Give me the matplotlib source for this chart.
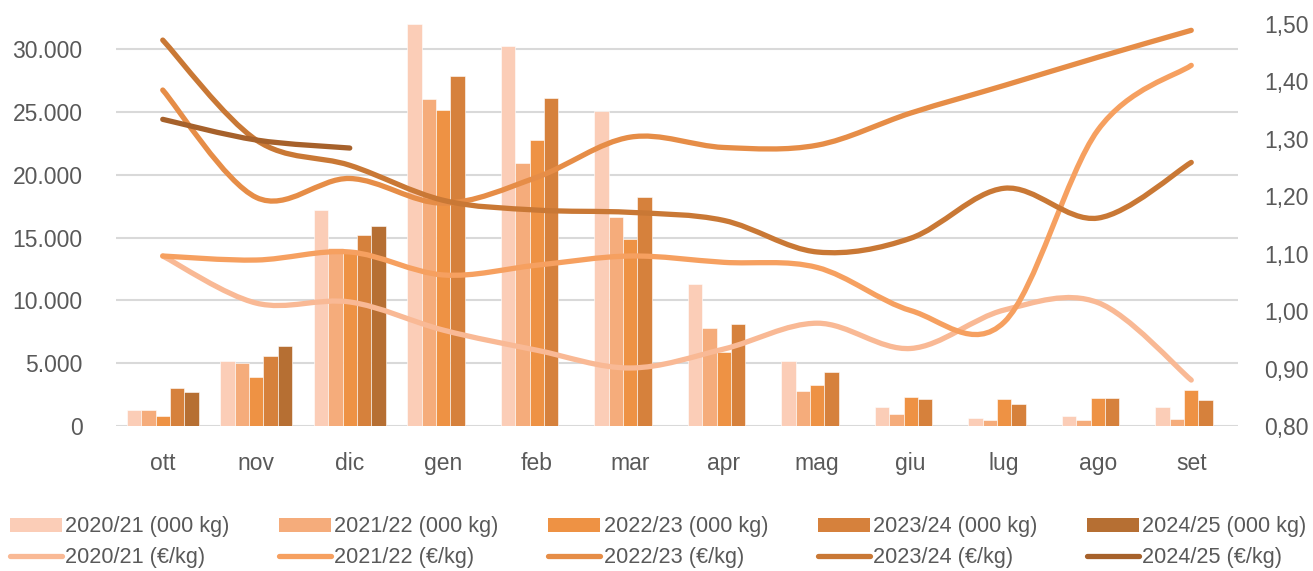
import numpy as np
import matplotlib
matplotlib.use("Agg")
import matplotlib.pyplot as plt
from matplotlib.path import Path
from matplotlib.patches import PathPatch, Patch
from matplotlib.lines import Line2D
from matplotlib.ticker import FuncFormatter, MultipleLocator

# data
months = ["ott", "nov", "dic", "gen", "feb", "mar", "apr", "mag", "giu", "lug", "ago", "set"]
seasons = ["2020/21", "2021/22", "2022/23", "2023/24", "2024/25"]

# volumes (000 kg)
vol_2021 = [1300, 5150, 17230, 31970, 30240, 25100, 11340, 5200, 1490, 610, 770, 1490]
vol_2122 = [1300, 5050, 14200, 26000, 20950, 16620, 7840, 2820, 990, 450, 510, 590]
vol_2223 = [830, 3900, 14000, 25140, 22800, 14900, 5900, 3240, 2290, 2150, 2260, 2840]
vol_2324 = [3030, 5550, 15190, 27900, 26100, 18200, 8100, 4280, 2180, 1780, 2200, 2050]
vol_2425 = [2710, 6400, 15930]

# prices (euro/kg)
prz_2021 = [1.096, 1.014, 1.016, 0.967, 0.932, 0.901, 0.934, 0.979, 0.935, 1.002, 1.015, 0.880]
prz_2122 = [1.096, 1.089, 1.103, 1.063, 1.080, 1.096, 1.085, 1.076, 1.001, 0.981, 1.315, 1.428]
prz_2223 = [1.385, 1.198, 1.231, 1.188, 1.233, 1.303, 1.285, 1.289, 1.345, 1.393, 1.442, 1.489]
prz_2324 = [1.472, 1.298, 1.254, 1.193, 1.176, 1.172, 1.158, 1.103, 1.127, 1.214, 1.162, 1.259]
prz_2425 = [1.334, 1.298, 1.284]

vols = [vol_2021, vol_2122, vol_2223, vol_2324, vol_2425]
przs = [prz_2021, prz_2122, prz_2223, prz_2324, prz_2425]

bar_cols = ["#FBCDB7", "#F5AC7B", "#EE9244", "#D6813C", "#B66F33"]
line_cols = ["#F9B995", "#F6A060", "#E68D47", "#C97835", "#A6612B"]
txt_col = "#595959"

plt.rcParams['font.family'] = ['Liberation Sans', 'DejaVu Sans']


def smooth_path(xs, ys):
	#excel-like smoothed line as bezier segments
	pts = np.column_stack([xs, ys]).astype(float)
	n = len(pts)
	verts = [pts[0]]
	codes = [Path.MOVETO]
	for i in range(n - 1):
		p0 = pts[i - 1] if i > 0 else pts[i]
		p1 = pts[i]
		p2 = pts[i + 1]
		p3 = pts[i + 2] if i + 2 < n else pts[i + 1]
		c1 = p1 + (p2 - p0) / 6.0
		c2 = p2 - (p3 - p1) / 6.0
		verts += [c1, c2, p2]
		codes += [Path.CURVE4] * 3
	return Path(verts, codes)


fig = plt.figure(figsize=(13.13, 5.71), dpi=100)
ax = fig.add_axes([116 / 1313, 1 - 426 / 571, 1122 / 1313, 402 / 571])
ax2 = ax.twinx()

x = np.arange(len(months))
w = 0.154
for k in range(5):
	v = vols[k]
	ax.bar(x[:len(v)] + (k - 2) * w, v, width=w, color=bar_cols[k],
		edgecolor="white", linewidth=0.4, zorder=2)

for k in range(5):
	p = przs[k]
	pp = PathPatch(smooth_path(x[:len(p)], p), facecolor="none", edgecolor=line_cols[k],
		linewidth=3.8, capstyle="round", joinstyle="round", zorder=3)
	ax2.add_patch(pp)

ax.set_xlim(-0.5, 11.5)
ax.set_ylim(0, 32000)
ax2.set_ylim(0.80, 1.50)

ax.yaxis.set_major_locator(MultipleLocator(5000))
ax.yaxis.set_major_formatter(FuncFormatter(lambda v, pos: f"{v:,.0f}".replace(",", ".")))
ax2.yaxis.set_major_locator(MultipleLocator(0.1))
ax2.yaxis.set_major_formatter(FuncFormatter(lambda v, pos: f"{v:.2f}".replace(".", ",")))

ax.set_xticks(x)
ax.set_xticklabels(months)
ax.grid(axis="y", color="#D9D9D9", linewidth=1.5, zorder=0)
ax.set_axisbelow(True)

for a in (ax, ax2):
	for s in a.spines.values():
		s.set_visible(False)
ax.tick_params(axis="y", length=0, labelsize=16.5, labelcolor=txt_col, pad=24)
ax.tick_params(axis="x", length=0, labelsize=16.5, labelcolor=txt_col, pad=19)
ax2.tick_params(axis="y", length=0, labelsize=16.5, labelcolor=txt_col, pad=19)

# legend
handles = []
labels = []
for k in range(5):
	handles.append(Patch(facecolor=bar_cols[k], edgecolor="none"))
	labels.append(seasons[k] + " (000 kg)")
	handles.append(Line2D([0], [0], color=line_cols[k], linewidth=3.8, solid_capstyle="round"))
	labels.append(seasons[k] + " (€/kg)")

leg = fig.legend(handles, labels, ncol=5, loc="lower left", bbox_to_anchor=(10 / 1313, 0.005),
	frameon=False, fontsize=15.6, handlelength=2.4, handleheight=0.6, handletextpad=0.14,
	columnspacing=2.3, labelspacing=0.45, borderaxespad=0, borderpad=0)
for t in leg.get_texts():
	t.set_color(txt_col)

plt.savefig("out.png", dpi=100)
